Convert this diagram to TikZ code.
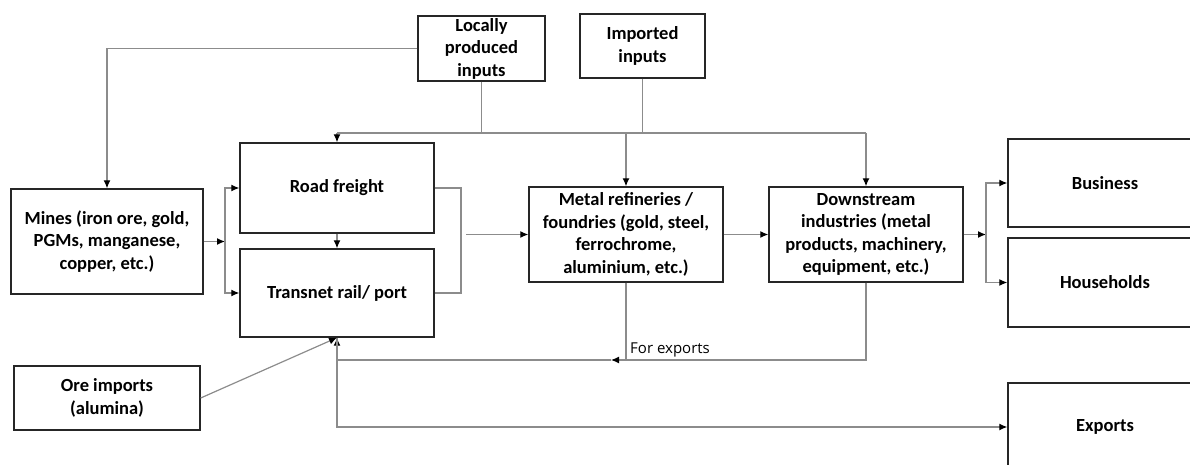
\documentclass[tikz,border=0pt]{standalone}
\usepackage{fontspec}
\setmainfont{Carlito}
\newfontfamily\notefont{Open Sans}
\usetikzlibrary{arrows.meta}

\tikzset{
  box/.style={draw=black!85, line width=1.4pt, align=center, inner sep=0pt,
    font=\bfseries\fontsize{18.5}{22.5}\selectfont},
  link/.style={draw=black!45, line width=1.2pt},
  flow/.style={link, -{Latex[length=8pt,width=7pt,color=black]}},
  note/.style={inner sep=0pt, font=\notefont\fontsize{15}{18}\selectfont},
}

\begin{document}
\begin{tikzpicture}[x=1pt,y=-1pt]
\useasboundingbox (0,0) rectangle (1190,465);

% to draw the input boxes
\node [box, minimum width=127pt, minimum height=65pt] (local) at (481.5,48.5) {Locally\\produced\\inputs};
\node [box, minimum width=125pt, minimum height=64pt] (imported) at (642.5,46) {Imported\\inputs};

% to draw the chain
\node [box, minimum width=192pt, minimum height=105pt] (mines) at (107,241.5) {Mines (iron ore, gold,\\PGMs, manganese,\\copper, etc.)};
\node [box, minimum width=194pt, minimum height=90pt] (road) at (337,188) {Road freight};
\node [box, minimum width=194pt, minimum height=88pt] (rail) at (337,293) {Transnet rail/ port};
\node [box, minimum width=194pt, minimum height=95pt] (metal) at (626,234.5) {Metal refineries /\\foundries (gold, steel,\\ferrochrome,\\aluminium, etc.)};
\node [box, minimum width=194pt, minimum height=95pt] (down) at (866,234.5) {Downstream\\industries (metal\\products, machinery,\\equipment, etc.)};
\node [box, minimum width=186pt, minimum height=64pt] (ore) at (107,398) {Ore imports\\(alumina)};

% to draw the end users
\node [box, minimum width=194pt, minimum height=88pt] (business) at (1105,183) {Business};
\node [box, minimum width=194pt, minimum height=89pt] (households) at (1105,282.5) {Households};
\node [box, minimum width=194pt, minimum height=88pt] (exports) at (1105,427) {Exports};

% inputs
\coordinate (busL) at (337,133);
\coordinate (busR) at (866,133);
\draw [flow] (local.west) -| (mines.north);
\draw [link] (local.south) |- (busL);
\draw [link] (imported.south) |- (busR);
\draw [link] (busL) -- (busR);
\draw [flow] (busL) -- (road.north);
\draw [flow] (busL -| metal.north) -- (metal.north);
\draw [flow] (busR) -- (down.north);

% mines to transport
\coordinate (split) at (225,241.5);
\draw [flow] (mines.east) -- (split);
\draw [flow] (split) |- (road.west);
\draw [flow] (split) |- (rail.west);
\draw [flow] (road.south) -- (rail.north);

% transport to refineries
\coordinate (merge) at (461,240);
\coordinate (feed) at (466,234.5);
\draw [link] (road.east) -| (merge) |- (rail.east);
\draw [flow] (feed) -- (metal.west);
\draw [flow] (metal.east) -- (down.west);

% to business and households
\coordinate (fork) at (986,234.5);
\draw [flow] (down.east) -- (fork);
\draw [flow] (fork) |- (business.west);
\draw [flow] (fork) |- (households.west);

% for exports
\coordinate (exp) at (626,360);
\coordinate (tip) at (611,360);
\coordinate (hub) at (337,360);
\draw [link] (metal.south) -- (exp);
\draw [link] (down.south) |- (exp);
\draw [flow] (exp) -- (tip);
\draw [link] (tip) -- (hub);
\draw [flow] (hub) -- (rail.south);
\node [note, anchor=south west] (forexp) at (630,357) {For exports};
\draw [flow] (rail.south) |- (exports.west);
\draw [flow] (ore.east) -- (rail.south);
\end{tikzpicture}
\end{document}
